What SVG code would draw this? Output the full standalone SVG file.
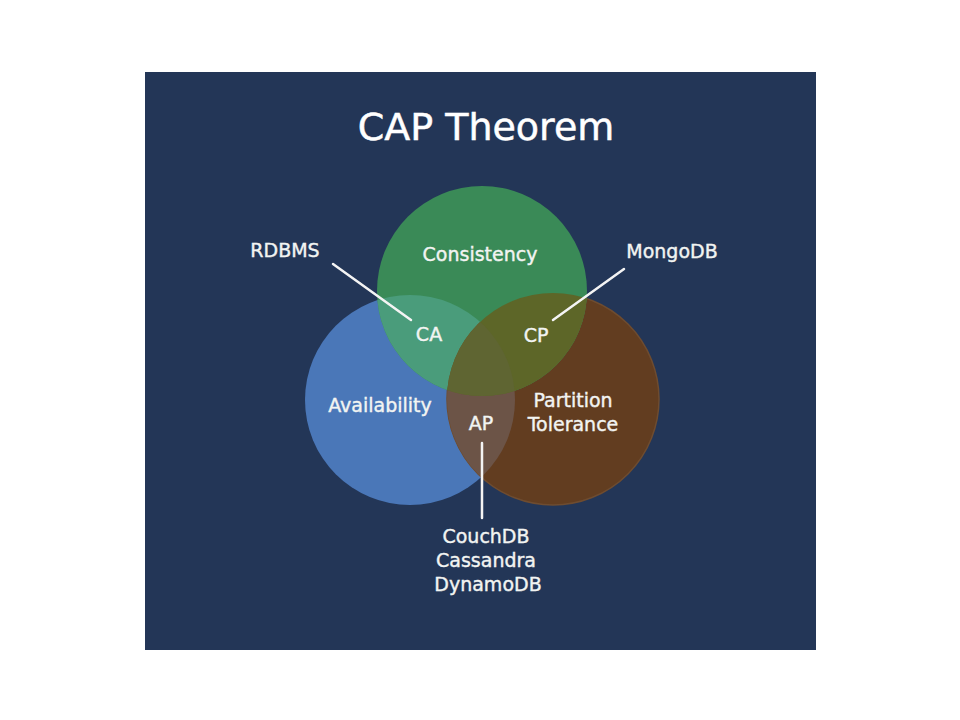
<svg xmlns="http://www.w3.org/2000/svg" width="960" height="720" viewBox="0 0 960 720">
<style>
  .lbl { font-family: "DejaVu Sans", "Liberation Sans", sans-serif; font-size: 19px; fill: #f2f4f2; stroke: #f2f4f2; stroke-width: 0.4; text-anchor: middle; }
  .title { font-family: "DejaVu Sans", "Liberation Sans", sans-serif; font-size: 38px; fill: #ffffff; stroke: #ffffff; stroke-width: 0.5; text-anchor: middle; }
  .conn { stroke: #f4f4f4; stroke-width: 2.5; fill: none; stroke-linecap: round; }
</style>
<defs>
  <clipPath id="clipG"><circle cx="482" cy="291" r="105"/></clipPath>
  <clipPath id="clipB"><circle cx="410" cy="400" r="105"/></clipPath>
  <clipPath id="clipP"><circle cx="553" cy="399" r="106"/></clipPath>
</defs>
<rect x="0" y="0" width="960" height="720" fill="#ffffff"/>
<rect x="145" y="72" width="671" height="578" fill="#233657"/>
<text class="title" x="486" y="140">CAP Theorem</text>

<g id="node-availability">
  <circle cx="410" cy="400" r="105" fill="#4a77b8"/>
  <text class="lbl" x="380" y="412">Availability</text>
</g>
<g id="node-partition">
  <circle cx="553" cy="399" r="106" fill="#623d20" stroke="#6e4c30" stroke-width="1.5"/>
  <text class="lbl" x="573" y="407">Partition</text>
  <text class="lbl" x="573" y="431">Tolerance</text>
</g>
<g id="node-consistency">
  <circle cx="482" cy="291" r="105" fill="#3a8a57"/>
  <text class="lbl" x="480" y="261">Consistency</text>
</g>
<g id="node-ca">
  <g clip-path="url(#clipB)"><circle cx="482" cy="291" r="105" fill="#4a9c7b"/></g>
</g>
<g id="node-ap">
  <g clip-path="url(#clipB)"><circle cx="553" cy="399" r="106" fill="#6c5447"/></g>
</g>
<g id="node-cp">
  <g clip-path="url(#clipP)"><circle cx="482" cy="291" r="105" fill="#5d6628"/></g>
</g>
<g id="node-center">
  <g clip-path="url(#clipB)"><g clip-path="url(#clipP)"><circle cx="482" cy="291" r="105" fill="#5f6532"/></g></g>
</g>
<g id="labels-intersections">
  <text class="lbl" x="429" y="341">CA</text>
  <text class="lbl" x="536" y="342">CP</text>
  <text class="lbl" x="481" y="430">AP</text>
</g>
<g id="connectors">
  <line class="conn" x1="333" y1="264" x2="411" y2="320"/>
  <line class="conn" x1="553" y1="320" x2="624" y2="269"/>
  <line class="conn" x1="482" y1="443" x2="482" y2="518"/>
</g>
<g id="node-rdbms">
  <text class="lbl" x="285" y="257">RDBMS</text>
</g>
<g id="node-mongodb">
  <text class="lbl" x="672" y="258">MongoDB</text>
</g>
<g id="node-ap-dbs">
  <text class="lbl" x="486" y="543">CouchDB</text>
  <text class="lbl" x="486" y="567">Cassandra</text>
  <text class="lbl" x="488" y="591">DynamoDB</text>
</g>
</svg>
